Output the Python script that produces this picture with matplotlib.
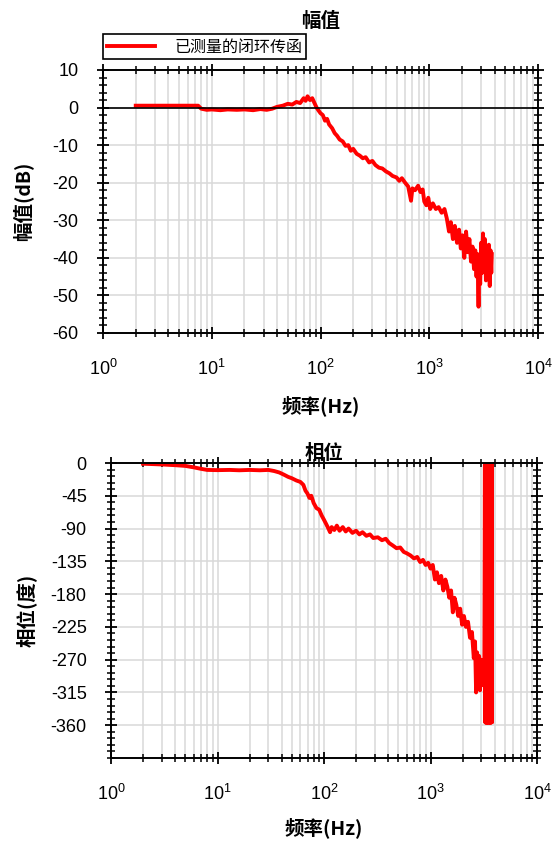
import matplotlib
matplotlib.use('Agg')
import matplotlib.pyplot as plt
from matplotlib.ticker import LogLocator, MultipleLocator, NullFormatter

plt.rcParams['font.family'] = ['Liberation Sans', 'Noto Sans CJK SC']
plt.rcParams['mathtext.fontset'] = 'custom'
plt.rcParams['mathtext.rm'] = 'Liberation Sans'
plt.rcParams['mathtext.it'] = 'Liberation Sans'
plt.rcParams['axes.unicode_minus'] = False

# 幅值数据 (Hz, dB)
mag_freq = [2, 3, 4, 5, 6, 7.5, 8, 9, 10, 12, 14, 17, 20, 24, 28, 32, 36, 40, 45, 50,
            55, 60, 65, 70, 73, 76, 80, 84, 88, 92, 96, 100, 105, 110, 115, 120, 128,
            135, 142, 150, 160, 170, 180, 190, 200, 215, 230, 245, 260, 280, 300, 320,
            345, 370, 400, 430, 460, 500, 530, 560, 600, 640, 680, 700, 740, 790, 830,
            870, 900, 940, 980, 1020, 1080, 1150, 1220, 1300, 1380, 1450, 1520, 1580,
            1650, 1720, 1800, 1880, 1950, 2020, 2100, 2180, 2260, 2340, 2420, 2500,
            2580, 2650, 2720, 2780, 2840, 2880, 2940, 3000, 3060, 3120, 3180, 3250,
            3320, 3390, 3460, 3530, 3600, 3660, 3720, 3760]
mag_db = [0.5, 0.5, 0.5, 0.5, 0.5, 0.5, -0.3, -0.6, -0.5, -0.7, -0.5, -0.6, -0.5, -0.7,
          -0.4, -0.6, -0.3, 0.2, 0.5, 1.0, 0.8, 1.5, 1.2, 2.5, 1.8, 3.0, 2.0, 2.5, 1.2,
          0.0, -0.8, -1.5, -2.0, -3.5, -3.0, -4.5, -5.5, -6.8, -7.5, -8.5, -9.0, -10.2,
          -10.0, -11.5, -11.0, -12.3, -12.8, -13.5, -13.2, -14.6, -14.2, -15.3, -16.0,
          -16.2, -17.0, -17.5, -18.2, -18.6, -19.5, -18.8, -20.0, -21.0, -24.8, -21.5,
          -22.0, -20.8, -22.5, -21.8, -25.0, -26.0, -24.0, -27.0, -25.5, -27.0, -26.5,
          -28.0, -27.0, -29.5, -33.0, -30.5, -35.0, -31.5, -36.0, -32.5, -37.5, -34.0,
          -40.0, -33.0, -38.5, -35.0, -41.0, -37.0, -43.0, -38.0, -45.0, -39.0, -53.0,
          -40.0, -47.0, -36.0, -44.0, -33.5, -41.0, -35.0, -46.0, -37.0, -43.0, -36.5,
          -47.5, -38.0, -44.0, -39.0]

# 相位数据 (Hz, 度)
ph_freq = [2, 3, 4, 5, 6, 7, 8, 10, 13, 16, 20, 25, 30, 34, 38, 42, 46, 50, 55, 60, 64,
           67, 70, 73, 76, 80, 85, 90, 95, 100, 105, 110, 114, 118, 125, 132, 140, 150,
           160, 170, 185, 200, 215, 230, 250, 270, 290, 320, 350, 380, 410, 440, 480,
           520, 560, 600, 650, 700, 750, 800, 850, 900, 950, 1000, 1050, 1100, 1150,
           1200, 1260, 1320, 1380, 1440, 1500, 1560, 1620, 1680, 1750, 1820, 1900, 1980,
           2060, 2150, 2250, 2350, 2450, 2550, 2620, 2680, 2740, 2800, 2860, 2920, 2980,
           3050, 3120, 3200,
           3240, 3260, 3280, 3300, 3320, 3340, 3360, 3380, 3400, 3420, 3440, 3460,
           3480, 3500, 3520, 3540, 3560, 3580, 3600, 3620, 3640, 3660, 3680, 3700,
           3720, 3740, 3760, 3780]
ph_deg = [-1, -2, -3, -4, -6, -8, -9.5, -9.8, -9.5, -10, -9.5, -10, -9.5, -11, -13, -16,
          -19, -21, -24, -26, -30, -38, -42, -48, -45, -55, -62, -64, -72, -78, -84, -90,
          -95, -88, -92, -86, -93, -88, -94, -90, -96, -93, -98, -95, -100, -98, -103,
          -102, -106, -104, -110, -113, -117, -116, -122, -124, -127, -131, -129, -136,
          -133, -140, -137, -145, -140, -160, -150, -165, -155, -175, -160, -170, -185,
          -175, -205, -185, -195, -210, -200, -222, -210, -225, -218, -240, -232, -268,
          -245, -315, -260, -300, -265, -312, -270, -305, -275, -300,
          -2, -356, -1, -355, -3, -357, -1, -354, -2, -356, -1, -355, -3, -357,
          -1, -354, -2, -356, -1, -355, -3, -357, -1, -354, -2, -356, -1, -355]

xticks = [1, 10, 100, 1000, 10000]
mag_ticks = [10, 0, -10, -20, -30, -40, -50, -60]
ph_ticks = [0, -45, -90, -135, -180, -225, -270, -315, -360]

fig = plt.figure(figsize=(5.53, 8.43), dpi=100)
ax1 = fig.add_axes([103 / 553, 1 - 333 / 843, 435 / 553, 263 / 843])
ax2 = fig.add_axes([111 / 553, 1 - 758 / 843, 426 / 553, 295 / 843])

cjk_bold = dict(family=['Noto Sans CJK SC', 'Liberation Sans'], fontweight='bold')


def style_axes(ax):
    ax.set_xscale('log')
    ax.set_xlim(1, 10000)
    ax.set_xticks(xticks)
    ax.xaxis.set_minor_locator(LogLocator(base=10, subs=range(2, 10), numticks=20))
    ax.xaxis.set_minor_formatter(NullFormatter())
    ax.grid(True, which='major', axis='both', color='#d9d9d9', lw=1.1)
    ax.grid(True, which='minor', axis='x', color='#d9d9d9', lw=1.1)
    ax.set_axisbelow(True)
    ax.tick_params(which='major', direction='inout', length=9, width=1.3,
                   top=True, right=True, labelsize=13)
    ax.tick_params(which='minor', direction='inout', length=6, width=1.1,
                   top=True, right=True)
    ax.tick_params(axis='x', pad=14)
    ax.tick_params(axis='y', pad=13)
    for s in ax.spines.values():
        s.set_linewidth(1.4)


# 幅值图
ax1.plot(mag_freq, mag_db, color='#ff0000', lw=2.8, label='已测量的闭环传函')
ax1.axhline(0, color='black', lw=1.2)
style_axes(ax1)
ax1.set_ylim(-60, 10)
ax1.set_yticks(mag_ticks)
ax1.yaxis.set_minor_locator(MultipleLocator(2))
ax1.set_title('幅值', fontsize=14, pad=31, **cjk_bold)
ax1.set_xlabel('频率(Hz)', fontsize=14, labelpad=12, **cjk_bold)
ax1.set_ylabel('幅值(dB)', fontsize=14, labelpad=14, **cjk_bold)
leg = ax1.legend(loc='lower left', bbox_to_anchor=(0, 1.04), borderaxespad=0,
                 fancybox=False, framealpha=1, edgecolor='black', handlelength=3.0,
                 handletextpad=1.2, borderpad=0.25,
                 prop={'family': 'Noto Sans CJK SC', 'size': 11.5})
leg.get_frame().set_linewidth(1.2)

# 相位图
ax2.plot(ph_freq, ph_deg, color='#ff0000', lw=2.8)
style_axes(ax2)
ax2.set_ylim(-405, 0)
ax2.set_yticks(ph_ticks)
ax2.yaxis.set_minor_locator(MultipleLocator(9))
ax2.set_title('相位', fontsize=14, pad=2, **cjk_bold)
ax2.set_xlabel('频率(Hz)', fontsize=14, labelpad=10, **cjk_bold)
ax2.set_ylabel('相位(度)', fontsize=14, labelpad=10, **cjk_bold)

fig.savefig('out.png', dpi=100)
